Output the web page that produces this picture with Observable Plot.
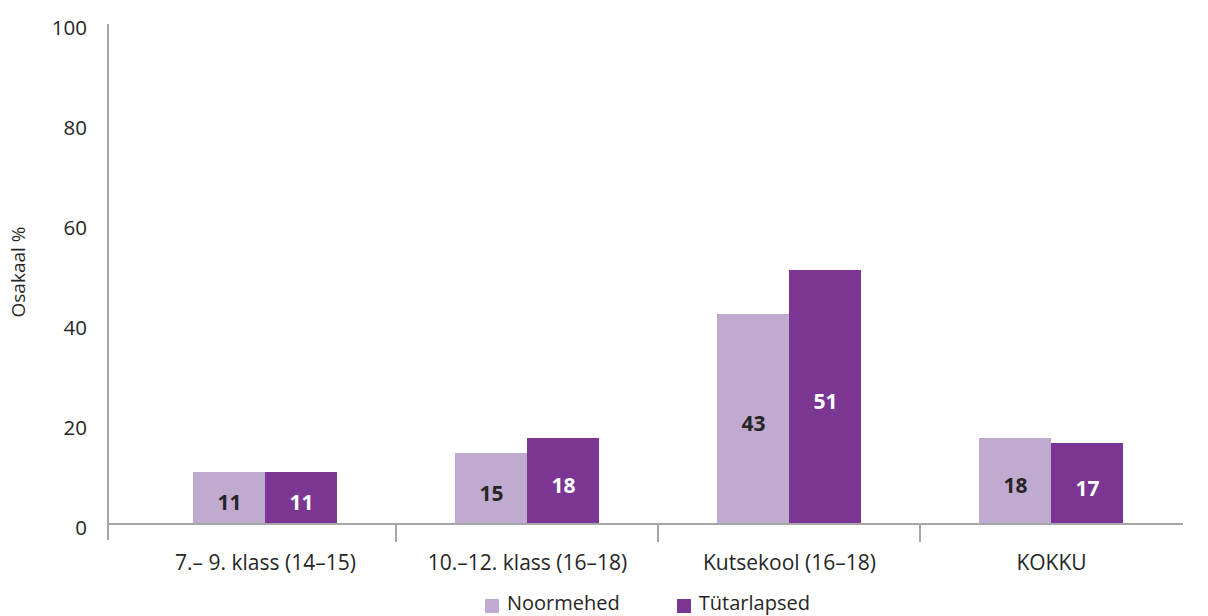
<!DOCTYPE html>
<html>
<head>
<meta charset="utf-8">
<script src="https://cdn.jsdelivr.net/npm/d3@7"></script>
<script src="https://cdn.jsdelivr.net/npm/@observablehq/plot@0.6"></script>
<style>
  html, body { margin: 0; padding: 0; background: #fff; width: 1208px; height: 616px; overflow: hidden; }
  body { font-family: "Open Sans", sans-serif; position: relative; }
  #legend { position: absolute; left: 485px; top: 591px; display: flex; align-items: center; font-size: 20px; color: #262626; line-height: 24px; white-space: nowrap; }
  #legend .item { display: flex; align-items: center; margin-right: 57px; }
  #legend .sw { width: 14px; height: 14px; margin-right: 8px; margin-top: 6px; }
</style>
</head>
<body>
<div id="chart"></div>
<div id="legend"></div>
<script>
const categories = ["7.– 9. klass (14–15)", "10.–12. klass (16–18)", "Kutsekool (16–18)", "KOKKU"];
const series = ["Noormehed", "Tütarlapsed"];
const colors = ["#C1AACF", "#7B3592"];
const noormehed = [10.4, 14.2, 42.0, 17.2];
const tutarlapsed = [10.4, 17.2, 50.8, 16.2];
const noormehedLabels = ["11", "15", "43", "18"];
const tutarlapsedLabels = ["11", "18", "51", "17"];
const yTicks = [0, 20, 40, 60, 80, 100];
const yTitle = "Osakaal %";

const data = [];
categories.forEach((c, i) => {
  data.push({cat: c, series: series[0], value: noormehed[i], label: noormehedLabels[i]});
  data.push({cat: c, series: series[1], value: tutarlapsed[i], label: tutarlapsedLabels[i]});
});

const font = "'Open Sans', sans-serif";
const plot = Plot.plot({
  width: 1208,
  height: 590,
  marginLeft: 133,
  marginRight: 25,
  marginTop: 24,
  marginBottom: 66,
  style: {fontFamily: font, background: "#fff", overflow: "visible"},
  fx: {domain: categories, paddingInner: 0.451, paddingOuter: 0.2255, label: null},
  x: {domain: series, padding: 0, axis: null},
  y: {domain: [0, 100], axis: null},
  color: {domain: series, range: colors},
  marks: [
    Plot.barY(data, {fx: "cat", x: "series", y: "value", fill: "series"}),
    Plot.text(data.filter(d => d.series === series[0]), {fx: "cat", x: "series", y: d => d.value / 2, text: "label", fill: "#262626", fontWeight: "bold", fontSize: 21, dy: 5}),
    Plot.text(data.filter(d => d.series === series[1]), {fx: "cat", x: "series", y: d => d.value / 2, text: "label", fill: "#ffffff", fontWeight: "bold", fontSize: 21, dy: 5}),
    Plot.axisFx({anchor: "bottom", tickSize: 0, tickPadding: 31, fontSize: 21, label: null, fill: "#262626"})
  ]
});

const svg = d3.select(plot);
const y = plot.scale("y");
const fx = plot.scale("fx");
const y0 = y.apply(0);
const axisColor = "#A6A6A6";
const leftX = 108;
const rightX = fx.range[1];
const g = svg.append("g").attr("stroke", axisColor).attr("stroke-width", 1.2).attr("shape-rendering", "crispEdges");
// baseline
g.append("line").attr("x1", leftX).attr("x2", rightX).attr("y1", y0).attr("y2", y0);
// y axis line
g.append("line").attr("x1", leftX).attr("x2", leftX).attr("y1", y.apply(100)).attr("y2", y0 + 16);
// category separators
categories.slice(1).forEach(c => {
  const xb = fx.apply(c) - (fx.step - fx.bandwidth) / 2;
  g.append("line").attr("x1", xb).attr("x2", xb).attr("y1", y0).attr("y2", y0 + 18);
});
// y tick labels
const tg = svg.append("g").attr("font-family", font).attr("font-size", 20.5).attr("fill", "#262626").attr("text-anchor", "end");
yTicks.forEach(t => {
  tg.append("text").attr("x", 87).attr("y", y.apply(t) + 4).attr("dy", "0.36em").text(t);
});
// y title
svg.append("text").attr("transform", `translate(25,${(y.apply(100) + y0) / 2 - 2}) rotate(-90)`)
  .attr("text-anchor", "middle").attr("font-family", font).attr("font-size", 19).attr("fill", "#262626").text(yTitle);

document.getElementById("chart").appendChild(plot);

const legend = document.getElementById("legend");
series.forEach((s, i) => {
  const item = document.createElement("div");
  item.className = "item";
  const sw = document.createElement("span");
  sw.className = "sw";
  sw.style.background = colors[i];
  const label = document.createElement("span");
  label.textContent = s;
  item.appendChild(sw);
  item.appendChild(label);
  legend.appendChild(item);
});
</script>
</body>
</html>
